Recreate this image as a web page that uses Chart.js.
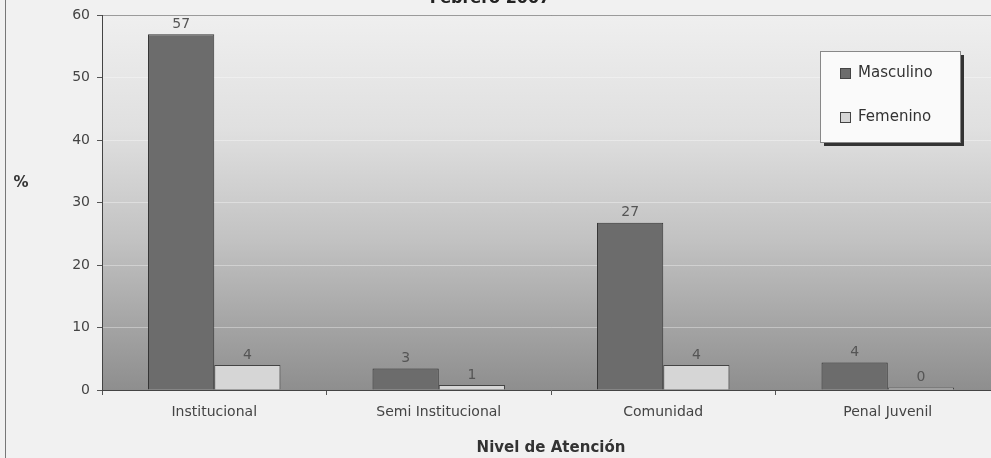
<!DOCTYPE html>
<html>
<head>
<meta charset="utf-8">
<script src="https://cdn.jsdelivr.net/npm/chart.js@4/dist/chart.umd.min.js"></script>
<style>
    html, body { margin: 0; padding: 0; background: #f1f1f1; overflow: hidden; }
    #wrap { position: relative; width: 1000px; height: 458px; }
</style>
</head>
<body>
<div id="wrap"><canvas id="nivelChart"></canvas></div>
<script>
// Chart data
const categories = ['Institucional', 'Semi Institucional', 'Comunidad', 'Penal Juvenil'];
const masculino = [57, 3.45, 26.8, 4.4];
const femenino = [4, 0.8, 4, 0.4];
const seriesNames = ['Masculino', 'Femenino'];
const yTicks = [0, 10, 20, 30, 40, 50, 60];
const chartTitle = 'Febrero 2007';
const xTitle = 'Nivel de Atención';
const yTitle = '%';

const FONT = "'DejaVu Sans', Verdana, sans-serif";

// Gradient plot background, frame lines, title and "%" label
const backgroundPlugin = {
    id: 'plotBackground',
    beforeDraw(chart) {
        const { ctx, chartArea: a } = chart;
        ctx.save();
        const g = ctx.createLinearGradient(0, a.top, 0, a.bottom);
        g.addColorStop(0, '#efefef');
        g.addColorStop(0.3, '#e0e0e0');
        g.addColorStop(0.6, '#c2c2c2');
        g.addColorStop(1, '#8e8e8e');
        ctx.fillStyle = g;
        ctx.fillRect(a.left, a.top, a.right - a.left, a.bottom - a.top);
        // outer frame line on the left
        ctx.strokeStyle = '#777';
        ctx.lineWidth = 1;
        ctx.beginPath();
        ctx.moveTo(5.5, 0);
        ctx.lineTo(5.5, chart.height);
        ctx.stroke();
        // top border of the plot area
        ctx.strokeStyle = '#666';
        ctx.beginPath();
        ctx.moveTo(a.left, Math.round(a.top) + 0.5);
        ctx.lineTo(a.right, Math.round(a.top) + 0.5);
        ctx.stroke();
        // title (cut at the top)
        ctx.fillStyle = '#222';
        ctx.font = 'bold 16px ' + FONT;
        ctx.textAlign = 'center';
        ctx.textBaseline = 'alphabetic';
        ctx.fillText(chartTitle, 490, 3);
        // y title
        ctx.font = 'bold 15px ' + FONT;
        ctx.fillStyle = '#333';
        ctx.textBaseline = 'middle';
        ctx.fillText(yTitle, 21, 183);
        ctx.restore();
    },
    afterDatasetsDraw(chart) {
        const { ctx } = chart;
        ctx.save();
        ctx.font = '14px ' + FONT;
        ctx.fillStyle = '#555';
        ctx.textAlign = 'center';
        ctx.textBaseline = 'bottom';
        chart.data.datasets.forEach((ds, i) => {
            chart.getDatasetMeta(i).data.forEach((bar, j) => {
                ctx.fillText(String(Math.round(ds.data[j])), bar.x, bar.y - 3);
            });
        });
        ctx.restore();
    }
};

// Legend box drawn inside the plot area
const legendBoxPlugin = {
    id: 'legendBox',
    afterDraw(chart) {
        const { ctx } = chart;
        const x = 820, y = 51, w = 140, h = 91;
        ctx.save();
        ctx.fillStyle = '#333';
        ctx.fillRect(x + 4, y + 4, w, h);
        ctx.fillStyle = '#fafafa';
        ctx.fillRect(x, y, w, h);
        ctx.strokeStyle = '#888';
        ctx.lineWidth = 1;
        ctx.strokeRect(x + 0.5, y + 0.5, w, h);
        ctx.font = '15px ' + FONT;
        ctx.textBaseline = 'middle';
        ctx.textAlign = 'left';
        chart.data.datasets.forEach((ds, i) => {
            const cy = y + 22 + i * 44;
            ctx.fillStyle = ds.backgroundColor;
            ctx.fillRect(x + 20, cy - 5, 11, 11);
            ctx.strokeStyle = '#444';
            ctx.strokeRect(x + 20.5, cy - 4.5, 10, 10);
            ctx.fillStyle = '#333';
            ctx.fillText(ds.label, x + 38, cy);
        });
        ctx.restore();
    }
};

const ctx = document.getElementById('nivelChart').getContext('2d');
new Chart(ctx, {
    type: 'bar',
    data: {
        labels: categories,
        datasets: [{
            label: seriesNames[0],
            data: masculino,
            backgroundColor: '#6c6c6c',
            borderColor: '#333',
            borderWidth: 1,
            categoryPercentage: 0.59,
            barPercentage: 1
        }, {
            label: seriesNames[1],
            data: femenino,
            backgroundColor: '#d6d6d6',
            borderColor: '#444',
            borderWidth: 1,
            categoryPercentage: 0.59,
            barPercentage: 1
        }]
    },
    options: {
        responsive: true,
        maintainAspectRatio: false,
        animation: false,
        layout: { padding: { top: 12, right: 0, left: 0, bottom: 0 } },
        plugins: {
            legend: { display: false },
            tooltip: { enabled: false }
        },
        scales: {
            x: {
                grid: {
                    offset: true,
                    drawOnChartArea: false,
                    color: '#555',
                    tickLength: 5
                },
                border: { color: '#444', width: 1 },
                ticks: {
                    color: '#444',
                    padding: 9,
                    font: { family: FONT, size: 14 }
                },
                title: {
                    display: true,
                    text: xTitle,
                    color: '#333',
                    font: { family: FONT, size: 15, weight: 'bold' },
                    padding: { top: 0, bottom: 1 }
                },
                afterFit: s => { s.height = 68; }
            },
            y: {
                min: 0,
                max: 60,
                afterBuildTicks: s => { s.ticks = yTicks.map(v => ({ value: v })); },
                grid: {
                    color: 'rgba(255,255,255,0.35)',
                    tickColor: '#555',
                    tickLength: 5
                },
                border: { color: '#444', width: 1 },
                ticks: {
                    color: '#444',
                    padding: 7,
                    font: { family: FONT, size: 14 }
                },
                afterFit: s => { s.width = 102; }
            }
        }
    },
    plugins: [backgroundPlugin, legendBoxPlugin]
});
</script>
</body>
</html>
